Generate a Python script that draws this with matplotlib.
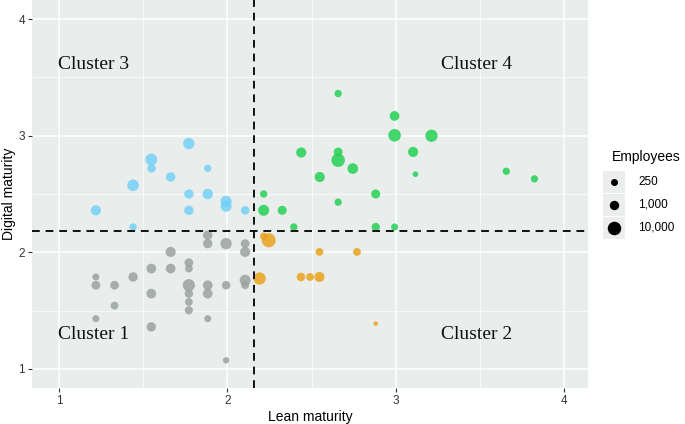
import numpy as np
import matplotlib.pyplot as plt

# cluster 1 (grey)
c1_x = [1.883, 1.883, 1.992, 2.105, 2.105, 1.663, 1.771, 1.771, 1.548, 1.663, 1.44, 1.219, 1.219, 1.33,
        1.771, 1.883, 1.992, 2.105, 2.105, 1.548, 1.771, 1.883, 1.771, 1.771, 1.33, 1.219, 1.883, 1.548, 1.992]
c1_y = [2.146, 2.074, 2.074, 2.074, 2.003, 2.003, 1.91, 1.86, 1.86, 1.86, 1.788, 1.788, 1.717, 1.717,
        1.717, 1.717, 1.717, 1.76, 1.717, 1.645, 1.645, 1.645, 1.573, 1.502, 1.542, 1.43, 1.43, 1.36, 1.073]
c1_emp = [1000, 1000, 3000, 700, 1500, 1500, 700, 400, 1200, 1200, 1000, 250, 700, 700,
          5000, 1200, 600, 2500, 400, 1200, 600, 1200, 400, 500, 400, 250, 250, 1000, 200]

# cluster 2 (orange)
c2_x = [2.245, 2.215, 2.191, 2.546, 2.769, 2.436, 2.49, 2.546, 2.88]
c2_y = [2.103, 2.137, 1.774, 2.003, 2.003, 1.788, 1.788, 1.788, 1.388]
c2_emp = [12000, 300, 5000, 400, 400, 600, 400, 1500, 100]

# cluster 3 (blue)
c3_x = [1.771, 1.548, 1.55, 1.663, 1.883, 1.44, 1.771, 1.883, 1.992, 1.992, 1.771, 2.105, 1.219, 1.44]
c3_y = [2.933, 2.796, 2.72, 2.646, 2.72, 2.575, 2.50, 2.50, 2.438, 2.395, 2.36, 2.36, 2.36, 2.217]
c3_emp = [3000, 4000, 600, 1000, 300, 3500, 1000, 1800, 2500, 2500, 1000, 600, 1500, 300]

# cluster 4 (green)
c4_x = [2.657, 2.992, 2.992, 3.102, 2.438, 2.657, 2.657, 2.744, 2.548, 3.116, 2.88, 2.215, 2.657,
        2.215, 2.325, 2.394, 2.88, 2.992, 3.211, 3.655, 3.822]
c4_y = [3.362, 3.17, 3.004, 2.861, 2.856, 2.861, 2.79, 2.718, 2.646, 2.67, 2.5, 2.5, 2.43,
        2.36, 2.36, 2.217, 2.217, 2.217, 3.0, 2.695, 2.63]
c4_emp = [300, 1200, 6000, 1500, 1500, 700, 10000, 2000, 1500, 150, 800, 300, 300,
          2500, 800, 300, 500, 250, 5000, 300, 300]

legend_emp = [250, 1000, 10000]
legend_lab = ['250', '1,000', '10,000']

x_split = 2.16
y_split = 2.18


def msize(emp):
    d = np.interp(np.log10(emp), [2.0, 2.4, 3.0, 4.0, 4.5], [4.5, 7.0, 9.4, 13.5, 16.5])
    return (d * 0.72) ** 2


plt.rcParams['font.family'] = ['Liberation Sans', 'DejaVu Sans']

fig = plt.figure(figsize=(6.85, 4.24), dpi=100)
ax = fig.add_axes([32 / 685, 36 / 424, 556 / 685, 388 / 424])
ax.set_facecolor('#e9edeb')

ax.set_xlim(0.84, 4.14)
ax.set_ylim(0.835, 4.165)
ax.set_xticks([1, 2, 3, 4])
ax.set_yticks([1, 2, 3, 4])
ax.set_xticks([1.5, 2.5, 3.5], minor=True)
ax.set_yticks([1.5, 2.5, 3.5], minor=True)
ax.grid(True, which='major', color='white', lw=1.1)
ax.grid(True, which='minor', color='white', lw=0.5)
ax.set_axisbelow(True)
for s in ax.spines.values():
    s.set_visible(False)
ax.tick_params(which='major', length=3, pad=2, color='#333333', labelsize=8.5, labelcolor='#333333')
ax.tick_params(which='minor', length=0)

ax.scatter(c1_x, c1_y, s=msize(c1_emp), color='#9aa39f', alpha=0.85, lw=0)
ax.scatter(c2_x, c2_y, s=msize(c2_emp), color='#e9a21c', alpha=0.85, lw=0)
ax.scatter(c3_x, c3_y, s=msize(c3_emp), color='#6fcff7', alpha=0.8, lw=0)
ax.scatter(c4_x, c4_y, s=msize(c4_emp), color='#25d155', alpha=0.85, lw=0)

ax.axvline(x_split, color='#111111', lw=1.4, ls=(0, (4, 3)))
ax.axhline(y_split, color='#111111', lw=1.4, ls=(0, (4, 3)))

tfont = dict(family='Liberation Serif', fontsize=14, ha='center', va='center', color='#111111')
ax.text(1.207, 3.61, 'Cluster 3', **tfont)
ax.text(3.478, 3.61, 'Cluster 4', **tfont)
ax.text(1.207, 1.29, 'Cluster 1', **tfont)
ax.text(3.478, 1.29, 'Cluster 2', **tfont)

ax.set_xlabel('Lean maturity', fontsize=10, labelpad=2)
ax.set_ylabel('Digital maturity', fontsize=10, labelpad=2)

# size legend
fig.text(612 / 685, 1 - 157 / 424, 'Employees', fontsize=10, va='center', ha='left')
for i, (e, lab) in enumerate(zip(legend_emp, legend_lab)):
    yc = 1 - (182 + 23 * i) / 424
    kax = fig.add_axes([603 / 685, yc - 11 / 424, 22 / 685, 22 / 424])
    kax.set_facecolor('#ebeeec')
    kax.set_xlim(0, 1)
    kax.set_ylim(0, 1)
    kax.set_xticks([])
    kax.set_yticks([])
    for s in kax.spines.values():
        s.set_visible(False)
    kax.scatter([0.5], [0.5], s=msize(e), color='black', lw=0)
    fig.text(638 / 685, yc, lab, fontsize=8.5, va='center', ha='left')

plt.savefig('out.png', dpi=100)
